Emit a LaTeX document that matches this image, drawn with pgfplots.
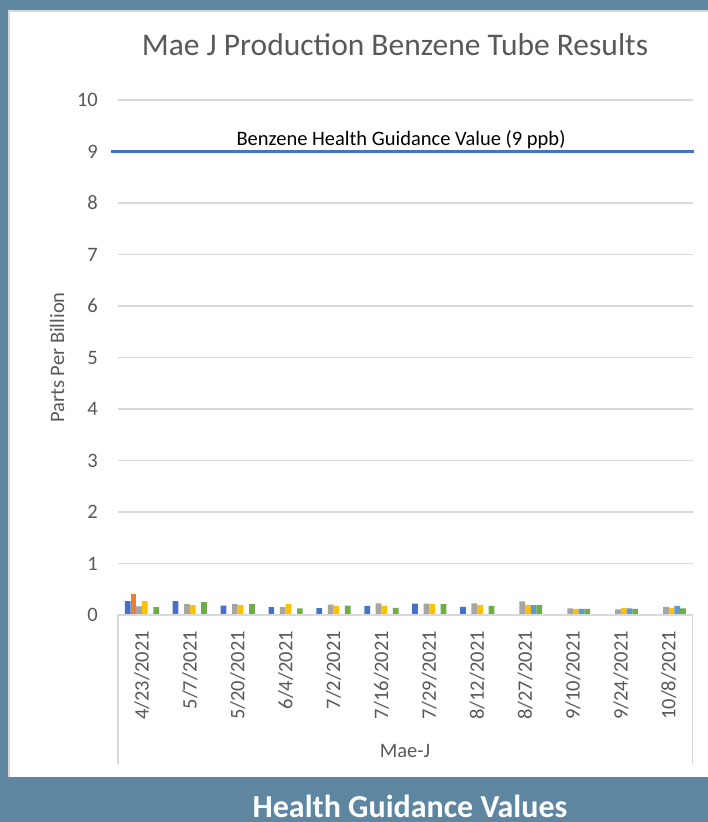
\documentclass[border=0pt]{standalone}
\usepackage{fontspec}
\setmainfont{Carlito}
\usepackage{pgfplots}
\pgfplotsset{compat=1.18}

\definecolor{framebg}{HTML}{5E86A1}
\definecolor{txt}{HTML}{595959}
\definecolor{gridc}{HTML}{D9D9D9}
\definecolor{cA}{HTML}{4472C4}
\definecolor{cB}{HTML}{ED7D31}
\definecolor{cC}{HTML}{A5A5A5}
\definecolor{cD}{HTML}{FFC000}
\definecolor{cE}{HTML}{5B9BD5}
\definecolor{cF}{HTML}{70AD47}

\newcommand\tickfont{\fontsize{20.5}{24}\selectfont}

\pgfplotsset{
  sample/.style 2 args={ybar, bar width=5.7pt, bar shift=#2, fill=#1, draw=none},
}

\begin{document}
\begin{tikzpicture}[x=1pt,y=1pt]
% frame bands and white panel
\fill[white] (0,0) rectangle (708,-822);
\fill[framebg] (0,0) rectangle (708,-10);
\fill[framebg] (0,0) rectangle (8,-822);
\fill[framebg] (0,-777) rectangle (708,-822);
\draw[gridc, line width=1.5pt] (8.75,-777) -- (8.75,-10.75) -- (708,-10.75);

\begin{axis}[
  at={(118pt,-615pt)}, anchor=south west,
  scale only axis, width=574.7pt, height=515pt,
  xmin=-0.5, xmax=11.5, ymin=0, ymax=10,
  clip=false,
  axis line style={draw=none},
  major tick length=0pt,
  ymajorgrids, grid style={gridc, line width=1.3pt},
  ytick={0,1,...,10},
  xtick={0,1,...,11},
  xticklabels={4/23/2021,5/7/2021,5/20/2021,6/4/2021,7/2/2021,7/16/2021,
    7/29/2021,8/12/2021,8/27/2021,9/10/2021,9/24/2021,10/8/2021},
  /pgf/number format/assume math mode=true,
  tick label style={font=\tickfont, text=txt, inner sep=0pt},
  xticklabel style={rotate=90, anchor=east},
  yticklabel style={anchor=east},
  xticklabel shift=16pt,
  yticklabel shift=20pt,
  title={Mae J Production Benzene Tube Results},
  title style={at={(axis description cs:0.482,1.0738)}, anchor=base, yshift=0pt,
    font=\fontsize{31.5}{36}\selectfont, text=txt, inner sep=0pt},
  ylabel={Parts Per Billion},
  ylabel style={at={(axis description cs:-0.106,0.5)}, anchor=center,
    font=\tickfont, text=txt, inner sep=0pt},
]
\addplot[sample={cA}{-14.25pt}] coordinates {
  (0,0.27) (1,0.27) (2,0.18) (3,0.155) (4,0.135) (5,0.175) (6,0.22) (7,0.16)};
\addplot[sample={cB}{-8.55pt}] coordinates {(0,0.41)};
\addplot[sample={cC}{-2.85pt}] coordinates {
  (0,0.17) (1,0.21) (2,0.21) (3,0.155) (4,0.20) (5,0.225) (6,0.22) (7,0.225)
  (8,0.265) (9,0.13) (10,0.11) (11,0.16)};
\addplot[sample={cD}{2.85pt}] coordinates {
  (0,0.27) (1,0.19) (2,0.19) (3,0.21) (4,0.175) (5,0.18) (6,0.21) (7,0.19)
  (8,0.19) (9,0.12) (10,0.14) (11,0.14)};
\addplot[sample={cE}{8.55pt}] coordinates {
  (8,0.19) (9,0.12) (10,0.13) (11,0.175)};
\addplot[sample={cF}{14.25pt}] coordinates {
  (0,0.155) (1,0.25) (2,0.21) (3,0.13) (4,0.18) (5,0.14) (6,0.21) (7,0.175)
  (8,0.19) (9,0.12) (10,0.12) (11,0.13)};
% health guidance value
\addplot[sharp plot, cA, line width=3.5pt, mark=none] coordinates {(-0.654,9) (11.53,9)};
\node[anchor=base, font=\tickfont, text=black, inner sep=0pt]
  at (axis cs:5.41,9.117) {Benzene Health Guidance Value (9 ppb)};
\end{axis}

% category axis frame
\draw[gridc, line width=1.5pt] (118,-764) -- (118,-615) -- (692.7,-615) -- (692.7,-764);
\node[anchor=base, font=\tickfont, text=txt, inner sep=0pt] at (405,-757) {Mae-J};

\node[anchor=base, font=\fontsize{32}{38}\bfseries, text=white, inner sep=0pt]
  at (410,-817) {Health Guidance Values};

\pgfresetboundingbox
\useasboundingbox (0,0) rectangle (708,-822);
\end{tikzpicture}
\end{document}
